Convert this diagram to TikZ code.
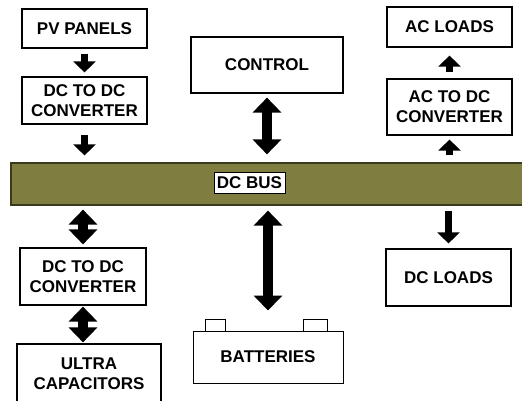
\documentclass[tikz,border=0pt]{standalone}
\usepackage{fontspec}
\setmainfont{Liberation Sans}
\usepackage{tikz}
\usetikzlibrary{calc,positioning,arrows.meta}
\definecolor{busolive}{HTML}{7F7D40}
\definecolor{busedge}{HTML}{3A3A1C}

\tikzset{
  box/.style={draw, line width=1.2pt, fill=white, align=center, inner sep=0pt,
    font=\bfseries\fontsize{17}{20}\selectfont},
  onearrow/.style={line width=7pt, -{Triangle[width=22pt,length=11pt]}},
  twoarrow/.style={line width=10pt,
    {Triangle[width=28pt,length=15pt]}-{Triangle[width=28pt,length=15pt]}}
}

\begin{document}
\begin{tikzpicture}[x=1pt, y=-1pt]
  \useasboundingbox (0,0) rectangle (522,400);
  % top row
  \node[box, minimum width=125pt, minimum height=39pt] (pv) at (84.5,28.5) {PV PANELS};
  \node[box, minimum width=125pt, minimum height=47pt] (dcdcin) at (84.5,100.5) {DC TO DC\\CONVERTER};
  \node[box, minimum width=152pt, minimum height=56pt] (control) at (267,65) {CONTROL};
  \node[box, minimum width=125pt, minimum height=40pt] (acload) at (449.5,27) {AC LOADS};
  \node[box, minimum width=125pt, minimum height=56pt] (acdc) at (449.5,107) {AC TO DC\\CONVERTER};
  % the bus
  \node[draw=busedge, fill=busolive, line width=1.2pt, minimum width=540pt,
    minimum height=42pt, inner sep=0pt] (bus) at (281,184) {};
  \node[box, line width=1pt, minimum width=71pt, minimum height=21pt] (buslabel) at (249.5,182.5) {DC BUS};
  % bottom row
  \node[box, minimum width=126pt, minimum height=57pt] (dcdcout) at (83,276.5) {DC TO DC\\CONVERTER};
  \node[box, minimum width=144pt, minimum height=60pt] (ultra) at (89,374) {ULTRA\\CAPACITORS};
  \node[box, line width=1pt, minimum width=150pt, minimum height=52pt] (battery) at (268,357) {BATTERIES};
  \draw[line width=1pt] (205,331) rectangle (225,319);
  \draw[line width=1pt] (303,331) rectangle (327,319);
  \node[box, minimum width=125pt, minimum height=57pt] (dcload) at (448.5,277.5) {DC LOADS};
  % arrows
  \draw[onearrow, shorten <=5pt, shorten >=4pt] (pv.south) -- (dcdcin.north);
  \draw[onearrow, shorten <=10pt, shorten >=7pt] (dcdcin.south) -- (dcdcin.south |- bus.north);
  \draw[twoarrow, shorten <=4pt, shorten >=8pt] (control.south) -- (control.south |- bus.north);
  \draw[onearrow, shorten <=7pt, shorten >=4pt] (acdc.south |- bus.north) -- (acdc.south);
  \draw[onearrow, shorten <=6pt, shorten >=8pt] (acdc.north) -- (acload.south);
  \draw[twoarrow, shorten <=4pt, shorten >=3pt] (dcdcout.north |- bus.south) -- (dcdcout.north);
  \draw[twoarrow, shorten <=1pt, shorten >=1pt] (dcdcout.south) -- (dcdcout.south |- ultra.north);
  \draw[twoarrow, shorten <=5pt, shorten >=20pt] (battery.north |- bus.south) -- (battery.north);
  \draw[onearrow, shorten <=5pt, shorten >=5pt] (dcload.north |- bus.south) -- (dcload.north);
\end{tikzpicture}
\end{document}
